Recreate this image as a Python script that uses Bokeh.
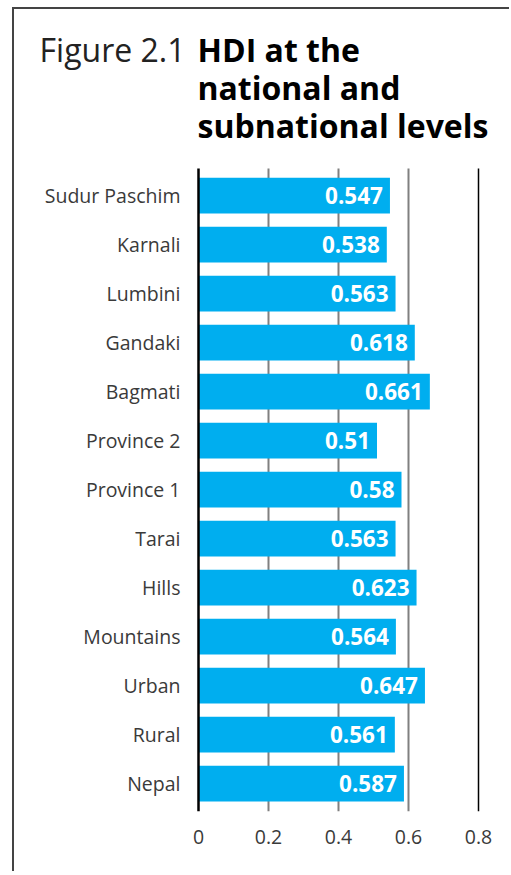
from bokeh.plotting import figure
from bokeh.models import Range1d, Label, FixedTicker, ColumnDataSource
from bokeh.core.properties import value
from bokeh.embed import file_html
from bokeh.resources import INLINE

categories = ["Sudur Paschim", "Karnali", "Lumbini", "Gandaki", "Bagmati", "Province 2",
              "Province 1", "Tarai", "Hills", "Mountains", "Urban", "Rural", "Nepal"]
hdi_values = [0.547, 0.538, 0.563, 0.618, 0.661, 0.51, 0.58, 0.563, 0.623, 0.564, 0.647, 0.561, 0.587]
value_labels = ["0.547", "0.538", "0.563", "0.618", "0.661", "0.51", "0.58", "0.563", "0.623",
                "0.564", "0.647", "0.561", "0.587"]
x_ticks = [0, 0.2, 0.4, 0.6, 0.8]
x_tick_labels = ["0", "0.2", "0.4", "0.6", "0.8"]
title_prefix = "Figure 2.1"
title_lines = ["HDI at the", "national and", "subnational levels"]

BLUE = "#00AEEF"
TXT = "#3a3a3a"
FONT = "Open Sans"

n = len(categories)
ypos = [n - 1 - i for i in range(n)]          # first category on top

# page geometry: canvas origin at (14, 9)
OX, OY = 14, 9
W, H = 511 - OX, 864
PX_X = 350.0      # pixels per HDI unit
PX_Y = 49.0       # pixels per category row
ZERO_X = 198      # page x of value 0
FRAME_BOTTOM = 811
MB = H - (FRAME_BOTTOM - OY)
frame_h = FRAME_BOTTOM - OY

x_start = -(ZERO_X - OX) / PX_X
x_end = (511 - ZERO_X) / PX_X
y_lo = -0.571
y_hi_frame = y_lo + frame_h / PX_Y
y_top = n - 1 + 0.55            # top of the bar area

src = ColumnDataSource(dict(y=ypos, val=hdi_values, lab=value_labels))

p = figure(width=W, height=H, output_backend="svg", toolbar_location=None,
           x_range=Range1d(x_start, x_end), y_range=Range1d(y_lo, y_hi_frame),
           min_border_left=0, min_border_right=0, min_border_top=0, min_border_bottom=MB)
p.styles = {"margin-left": "12px", "margin-top": "7px",
            "border-left": "2px solid #444", "border-top": "2px solid #444"}
p.outline_line_color = None
p.background_fill_color = "white"
p.border_fill_color = "white"
p.xgrid.grid_line_color = None
p.ygrid.grid_line_color = None

# vertical grid lines over the bar area only
p.segment(x0=x_ticks[1:4], x1=x_ticks[1:4], y0=y_lo, y1=y_top, line_color="#808080", line_width=2)
p.segment(x0=x_ticks[4:], x1=x_ticks[4:], y0=y_lo, y1=y_top, line_color="black", line_width=1.5)

p.hbar(y="y", right="val", left=0, height=0.73, source=src, fill_color=BLUE, line_color=None)
p.text(x="val", y="y", text="lab", source=src, x_offset=-7, text_align="right",
       text_baseline="middle", text_color="white", text_font=value(FONT),
       text_font_style="bold", text_font_size="22.5px")

# x axis
xa = p.xaxis[0]
xa.ticker = FixedTicker(ticks=x_ticks)
xa.major_label_overrides = {t: l for t, l in zip(x_ticks, x_tick_labels)}
xa.axis_line_color = None
xa.major_tick_line_color = None
xa.minor_tick_line_color = None
xa.major_label_standoff = 12
xa.major_label_text_font = FONT
xa.major_label_text_font_size = "19.5px"
xa.major_label_text_color = TXT

# y axis pinned at value 0
ya = p.yaxis[0]
ya.fixed_location = 0
ya.bounds = (y_lo, y_top)
ya.ticker = FixedTicker(ticks=ypos)
ya.major_label_overrides = {y: c for y, c in zip(ypos, categories)}
ya.axis_line_color = "black"
ya.axis_line_width = 2.5
ya.major_tick_line_color = None
ya.minor_tick_line_color = None
ya.major_label_standoff = 12
ya.major_label_text_font = FONT
ya.major_label_text_font_size = "19.5px"
ya.major_label_text_color = TXT

# title (screen units: x from frame left, y up from frame bottom)
base0 = FRAME_BOTTOM - 61 + 12
p.add_layout(Label(x=185 - OX, y=base0, x_units="screen", y_units="screen", text=title_prefix,
                   text_align="right", text_baseline="alphabetic", text_font=FONT,
                   text_font_size="32px", text_color="#222222"))
for i, line in enumerate(title_lines):
    p.add_layout(Label(x=197 - OX, y=base0 - 38 * i, x_units="screen", y_units="screen",
                       text=line, text_align="left", text_baseline="alphabetic", text_font=FONT,
                       text_font_style="bold", text_font_size="32px", text_color="black"))

open("out.html", "w").write(file_html(p, INLINE))
